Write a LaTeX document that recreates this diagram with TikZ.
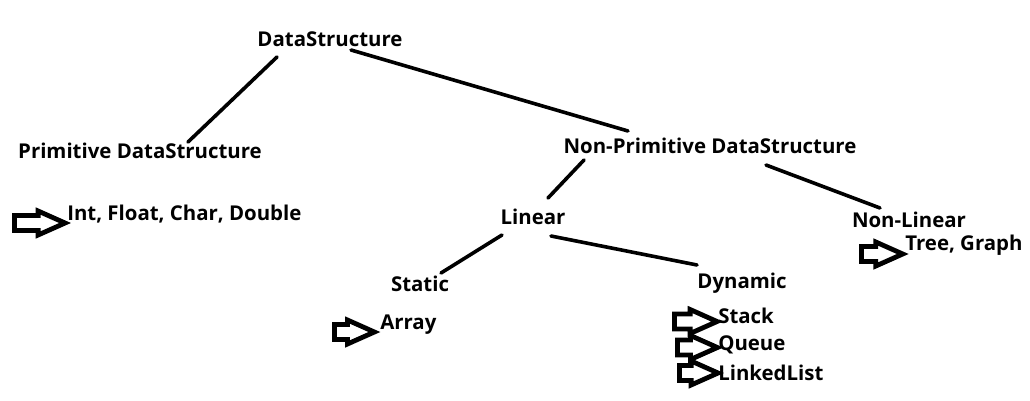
\documentclass[tikz,border=0pt]{standalone}
\usepackage{fontspec}
\setmainfont{Open Sans}
\usetikzlibrary{shapes.arrows}
\begin{document}
\begin{tikzpicture}[x=0.75pt,y=-0.75pt,
  lbl/.style={inner sep=0pt,font=\bfseries\fontsize{15.3}{18}\selectfont},
  conn/.style={line width=3.6pt*0.75,line cap=round},
  barrow/.style={single arrow,draw=black,fill=white,line width=3.6pt,
     inner sep=0pt,inner ysep=3.8pt,minimum width=14.5pt,minimum height=38pt,
     single arrow tip angle=48,single arrow head extend=3.4pt,anchor=west}]
\useasboundingbox (0,0) rectangle (1030,400);
% text nodes
\node[lbl] (ds) at (330,39) {DataStructure};
\node[lbl] (prim) at (140,151) {Primitive DataStructure};
\node[lbl] (nonprim) at (710,146) {Non-Primitive DataStructure};
\node[lbl,anchor=west] (ifcd) at (67,214) {Int, Float, Char, Double};
\node[lbl] (lin) at (533,217) {Linear};
\node[lbl] (nonlin) at (909,220) {Non-Linear};
\node[lbl,anchor=west] (tg) at (905,245) {Tree, Graph};
\node[lbl] (stat) at (420,284) {Static};
\node[lbl] (dyn) at (742,283) {Dynamic};
\node[lbl,anchor=west] (arr) at (380,325) {Array};
\node[lbl,anchor=west] (stk) at (718,316) {Stack};
\node[lbl,anchor=west] (que) at (718,345) {Queue};
\node[lbl,anchor=west] (ll) at (718,373) {LinkedList};
% connector end points
\coordinate (c1a) at (277,57);  \coordinate (c1b) at (188,142);
\coordinate (c2a) at (351,50);  \coordinate (c2b) at (628,131);
\coordinate (c3a) at (584,160); \coordinate (c3b) at (548,198);
\coordinate (c4a) at (766,165); \coordinate (c4b) at (880,208);
\coordinate (c5a) at (502,235); \coordinate (c5b) at (441,273);
\coordinate (c6a) at (551,236); \coordinate (c6b) at (697,265);
\draw[conn] (c1a) -- (c1b);
\draw[conn] (c2a) -- (c2b);
\draw[conn] (c3a) -- (c3b);
\draw[conn] (c4a) -- (c4b);
\draw[conn] (c5a) -- (c5b);
\draw[conn] (c6a) -- (c6b);
% block arrows
\node[barrow] (a1) at (12,223) {};
\node[barrow,minimum height=31pt] (a2) at (859,254) {};
\node[barrow,minimum height=30pt] (a3) at (332,332) {};
\node[barrow,minimum height=32pt] (a4) at (672,321.5) {};
\node[barrow,minimum height=30pt] (a5) at (675,347.5) {};
\node[barrow,minimum height=29pt] (a6) at (677,373) {};
\end{tikzpicture}
\end{document}
